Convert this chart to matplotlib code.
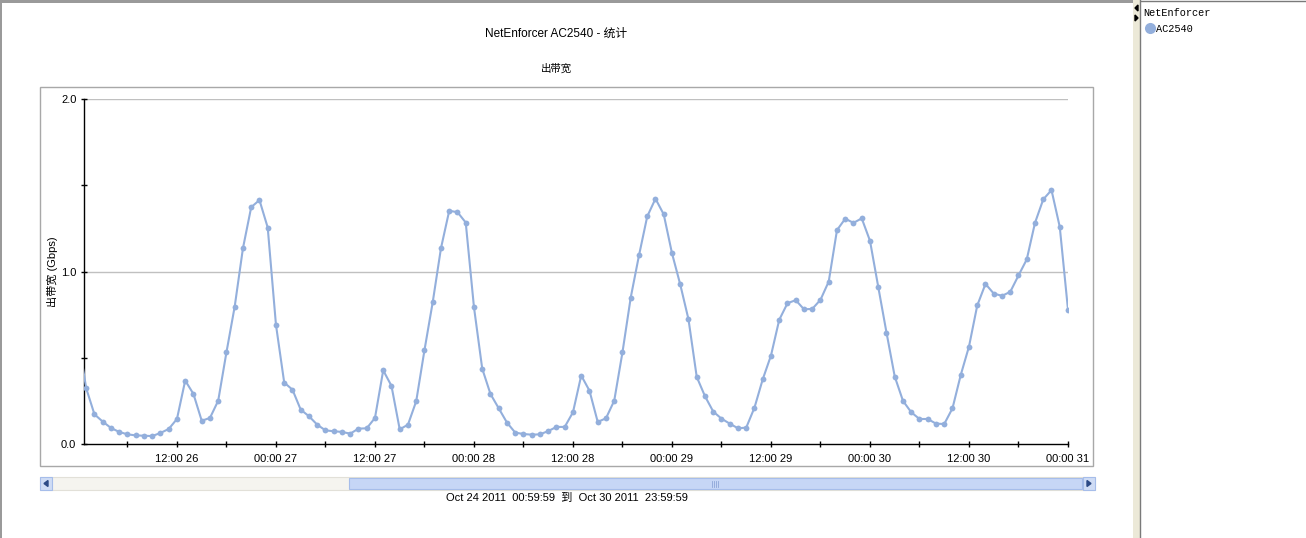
import matplotlib
matplotlib.use('Agg')
import matplotlib.pyplot as plt
import matplotlib.dates as mdates
from matplotlib.patches import Rectangle, Polygon
from matplotlib.lines import Line2D
from matplotlib.ticker import FixedLocator, FuncFormatter
import pandas as pd

# ---------------- data ----------------
start_time = '2011-10-26 00:00'
bandwidth_gbps = [
    0.62, 0.323, 0.172, 0.130, 0.093, 0.070, 0.056, 0.050, 0.048, 0.046,
    0.064, 0.087, 0.145, 0.368, 0.290, 0.135, 0.151, 0.251, 0.532, 0.797,
    1.135, 1.373, 1.414, 1.255, 0.691, 0.356, 0.315, 0.199, 0.161, 0.112,
    0.079, 0.074, 0.070, 0.060, 0.089, 0.091, 0.151, 0.427, 0.337, 0.085,
    0.112, 0.248, 0.544, 0.822, 1.135, 1.352, 1.344, 1.284, 0.793, 0.437,
    0.290, 0.207, 0.124, 0.066, 0.058, 0.054, 0.056, 0.075, 0.099, 0.099,
    0.184, 0.397, 0.309, 0.128, 0.149, 0.251, 0.532, 0.849, 1.093, 1.319,
    1.422, 1.331, 1.106, 0.925, 0.723, 0.389, 0.277, 0.188, 0.147, 0.118,
    0.091, 0.095, 0.211, 0.375, 0.513, 0.720, 0.816, 0.834, 0.781, 0.783,
    0.836, 0.942, 1.240, 1.306, 1.282, 1.308, 1.178, 0.911, 0.646, 0.391,
    0.250, 0.184, 0.145, 0.145, 0.118, 0.116, 0.207, 0.400, 0.565, 0.803,
    0.928, 0.872, 0.859, 0.882, 0.977, 1.070, 1.282, 1.418, 1.472, 1.259,
    0.778,
]
times = pd.date_range(start_time, periods=len(bandwidth_gbps), freq='h')
view_start = pd.Timestamp('2011-10-26 00:44')
view_end = pd.Timestamp('2011-10-31 00:00')
y_major = [0.0, 1.0, 2.0]
y_minor = [0.5, 1.5]

chart_title = 'NetEnforcer AC2540 - 统计'
sub_title = '出带宽'
y_label = '出带宽 (Gbps)'
range_text = 'Oct 24 2011  00:59:59  到  Oct 30 2011  23:59:59'
legend_title = 'NetEnforcer'
series_name = 'AC2540'

LINE_COLOR = '#93afdc'
FONT = ['Liberation Sans', 'Noto Sans CJK SC', 'DejaVu Sans']
plt.rcParams['font.family'] = FONT

W, H = 1306, 538
fig = plt.figure(figsize=(W / 100, H / 100), dpi=100)
fig.patch.set_facecolor('white')


def fx(x):
    return x / W


def fy(y):
    return 1 - y / H


def rect_px(x0, y0, x1, y1, **kw):
    r = Rectangle((fx(x0), fy(y1)), (x1 - x0) / W, (y1 - y0) / H,
                  transform=fig.transFigure, **kw)
    fig.add_artist(r)
    return r


# chart frame
rect_px(40, 87, 1093, 466, facecolor='none', edgecolor='#a8a8a8', lw=1.0, zorder=0)

# axes
ax_l, ax_r, ax_t, ax_b = 84, 1068, 99, 444
ax = fig.add_axes([fx(ax_l), fy(ax_b), (ax_r - ax_l) / W, (ax_b - ax_t) / H])
ax.set_facecolor('none')
ax.plot(times, bandwidth_gbps, color=LINE_COLOR, lw=1.5, marker='o', ms=4.2,
        markeredgewidth=0, zorder=3)
ax.set_xlim(view_start, view_end)
ax.set_ylim(0, 2.0)
for s in ['top', 'right']:
    ax.spines[s].set_visible(False)
for s in ['left', 'bottom']:
    ax.spines[s].set_color('black')
    ax.spines[s].set_linewidth(1.0)

ax.yaxis.set_major_locator(FixedLocator(y_major))
ax.yaxis.set_minor_locator(FixedLocator(y_minor))
ax.yaxis.set_major_formatter(FuncFormatter(lambda v, p: f'{v:.1f}'))
for v in [1.0, 2.0]:
    ax.axhline(v, color='#c0c0c0', lw=1.0, zorder=1)

ax.xaxis.set_major_locator(mdates.HourLocator(byhour=[0, 12]))
ax.xaxis.set_minor_locator(mdates.HourLocator(byhour=[6, 18]))
ax.xaxis.set_major_formatter(mdates.DateFormatter('%H:%M %d'))

ax.tick_params(axis='both', which='both', direction='inout', length=5,
               width=1.0, color='black', labelsize=8, labelcolor='black')
ax.tick_params(axis='x', which='major', pad=5)
ax.tick_params(axis='y', which='major', pad=3)

ax.set_ylabel(y_label, fontsize=8)
ax.yaxis.set_label_coords((58 - ax_l) / (ax_r - ax_l), 0.5)

# titles
fig.text(fx(556), fy(34), chart_title, ha='center', va='center', fontsize=8.5)
fig.text(fx(556), fy(69), sub_title, ha='center', va='center', fontsize=7.5)

# scrollbar
rect_px(40, 477, 1095, 490, facecolor='#f5f4ef', edgecolor='#e2e0d8', lw=0.8)
rect_px(349, 478, 1082, 489, facecolor='#c6d6f6', edgecolor='#a6bdea', lw=0.8)
for gx in [712, 714, 716, 718]:
    fig.add_artist(Line2D([fx(gx), fx(gx)], [fy(480.5), fy(486.5)],
                          transform=fig.transFigure, color='#8da6d8', lw=0.6))
rect_px(40, 477, 52, 490, facecolor='#cfdcf5', edgecolor='#a6bdea', lw=0.8)
rect_px(1083, 477, 1095, 490, facecolor='#cfdcf5', edgecolor='#a6bdea', lw=0.8)
fig.add_artist(Polygon([[fx(44), fy(483.5)], [fx(48), fy(480.5)], [fx(48), fy(486.5)]],
                       closed=True, transform=fig.transFigure, color='#2c4a86'))
fig.add_artist(Polygon([[fx(1091), fy(483.5)], [fx(1087), fy(480.5)], [fx(1087), fy(486.5)]],
                       closed=True, transform=fig.transFigure, color='#2c4a86'))
fig.text(fx(567), fy(498), range_text, ha='center', va='center', fontsize=8)

# outer window borders
rect_px(0, 0, 1137, 3, facecolor='#9a9a9a', edgecolor='none')
rect_px(0, 0, 2, 538, facecolor='#9a9a9a', edgecolor='none')

# splitter and legend panel
rect_px(1133, 0, 1141, 538, facecolor='#ece9d8', edgecolor='none')
fig.add_artist(Line2D([fx(1140), fx(1140)], [fy(0), fy(538)], transform=fig.transFigure,
                      color='#7a7a7a', lw=1.0))
fig.add_artist(Line2D([fx(1141), fx(1306)], [fy(0.5), fy(0.5)], transform=fig.transFigure,
                      color='#7a7a7a', lw=1.0))
fig.add_artist(Polygon([[fx(1135), fy(8)], [fx(1138), fy(5)], [fx(1138), fy(11)]],
                       closed=True, transform=fig.transFigure, color='black'))
fig.add_artist(Polygon([[fx(1138), fy(18)], [fx(1135), fy(15)], [fx(1135), fy(21)]],
                       closed=True, transform=fig.transFigure, color='black'))

fig.text(fx(1143), fy(12.5), legend_title, ha='left', va='center', fontsize=7.4,
         family=['Liberation Mono', 'DejaVu Sans Mono'])
fig.add_artist(Line2D([fx(1149.5)], [fy(28)], transform=fig.transFigure,
                      marker='o', ms=8, color=LINE_COLOR, markeredgewidth=0))
fig.text(fx(1156), fy(28.5), series_name, ha='left', va='center', fontsize=7.4,
         family=['Liberation Mono', 'DejaVu Sans Mono'])

fig.savefig('out.png', dpi=100)
